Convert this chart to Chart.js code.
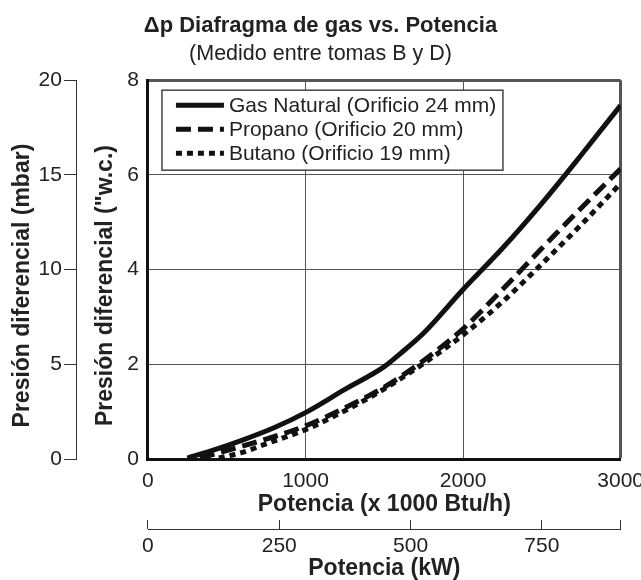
<!DOCTYPE html>
<html>
<head>
<meta charset="utf-8">
<script src="https://cdn.jsdelivr.net/npm/chart.js@4"></script>
<style>
  html, body { margin: 0; padding: 0; background: #fff; }
</style>
</head>
<body>
<canvas id="chart" width="641" height="580"></canvas>
<script>
// Values (x in 1000 Btu/h, y in inches w.c.)
const gasX = [250, 400, 600, 800, 1000, 1250, 1500, 1600, 1750, 2000, 2250, 2500, 2750, 3000];
const gasY = [0.02, 0.17, 0.40, 0.66, 0.98, 1.47, 1.95, 2.22, 2.66, 3.58, 4.45, 5.40, 6.42, 7.47];

const propX = [330, 500, 750, 1000, 1250, 1500, 1750, 2000, 2250, 2500, 2750, 3000];
const propY = [0.02, 0.18, 0.42, 0.70, 1.08, 1.52, 2.08, 2.75, 3.58, 4.45, 5.30, 6.13];

const butX = [450, 600, 750, 1000, 1250, 1500, 1750, 2000, 2250, 2500, 2750, 3000];
const butY = [0.02, 0.14, 0.32, 0.62, 1.02, 1.48, 2.02, 2.62, 3.32, 4.12, 4.95, 5.82];

const seriesLabels = ['Gas Natural (Orificio 24 mm)', 'Propano (Orificio 20 mm)', 'Butano (Orificio 19 mm)'];
const dashes = [[], [15, 7], [6, 5]];

const btuTicks = [0, 1000, 2000, 3000];
const kwTicks = [0, 250, 500, 750];
const kwMax = 900; // end of the kW scale (unlabelled tick)

const TXT = '#222';
Chart.defaults.font.family = '"Liberation Sans", Arial, Helvetica, sans-serif';
Chart.defaults.color = TXT;

const toPts = (xs, ys) => xs.map((x, i) => ({ x: x, y: ys[i] }));

// legend drawn as a framed box inside the plot, top-left
const boxLegend = {
    id: 'boxLegend',
    afterDatasetsDraw(chart) {
        const { ctx, chartArea } = chart;
        const left = chartArea.left + 14, top = chartArea.top + 10;
        ctx.save();
        ctx.fillStyle = '#fff';
        ctx.fillRect(left, top, 341, 80);
        ctx.strokeStyle = '#444';
        ctx.lineWidth = 1.5;
        ctx.strokeRect(left, top, 341, 80);
        ctx.font = '21px "Liberation Sans", Arial, sans-serif';
        ctx.textBaseline = 'middle';
        chart.data.datasets.forEach((ds, i) => {
            const y = top + 15 + i * 24;
            ctx.strokeStyle = ds.borderColor;
            ctx.lineWidth = ds.borderWidth;
            ctx.setLineDash(ds.borderDash || []);
            ctx.beginPath();
            ctx.moveTo(left + 14, y);
            ctx.lineTo(left + 62, y);
            ctx.stroke();
            ctx.setLineDash([]);
            ctx.fillStyle = TXT;
            ctx.fillText(ds.label, left + 67, y + 1);
        });
        ctx.restore();
    }
};

// kW axis: line under the upward tick marks
const kwLine = {
    id: 'kwLine',
    afterDraw(chart) {
        const s = chart.scales.kw;
        const ctx = chart.ctx;
        const y = Math.round(s.top + s.options.grid.tickLength) + 0.5;
        ctx.save();
        ctx.strokeStyle = '#333';
        ctx.lineWidth = 1;
        ctx.beginPath();
        ctx.moveTo(s.left, y);
        ctx.lineTo(s.right + 0.5, y);
        ctx.stroke();
        ctx.restore();
    }
};

const tickFont = { size: 21, lineHeight: 1 };
const titleFont = { size: 23, weight: 'bold', lineHeight: 1 };

const ctx = document.getElementById('chart').getContext('2d');
const chart = new Chart(ctx, {
    type: 'line',
    data: {
        datasets: [
            { label: seriesLabels[0], data: toPts(gasX, gasY) },
            { label: seriesLabels[1], data: toPts(propX, propY) },
            { label: seriesLabels[2], data: toPts(butX, butY) }
        ].map((d, i) => Object.assign(d, {
            borderColor: '#111',
            borderWidth: 5,
            borderDash: dashes[i],
            pointRadius: 0,
            fill: false,
            cubicInterpolationMode: 'monotone',
            xAxisID: 'x',
            yAxisID: 'y'
        }))
    },
    options: {
        responsive: false,
        animation: false,
        events: [],
        layout: { padding: 0 },
        plugins: {
            legend: { display: false },
            tooltip: { enabled: false },
            title: {
                display: true,
                text: 'Δp Diafragma de gas vs. Potencia',
                color: TXT,
                font: { size: 22, weight: 'bold' },
                padding: { top: 13, bottom: 0 }
            },
            subtitle: {
                display: true,
                text: '(Medido entre tomas B y D)',
                color: TXT,
                font: { size: 21.5, weight: 'normal' },
                padding: { top: 2, bottom: 13 }
            }
        },
        scales: {
            x: {
                type: 'linear',
                position: 'bottom',
                weight: 0,
                min: 0,
                max: 3000,
                afterBuildTicks: s => { s.ticks = btuTicks.map(v => ({ value: v })); },
                ticks: { padding: -3, maxRotation: 0, autoSkip: false, font: tickFont, callback: v => String(v) },
                grid: {
                    color: '#555',
                    tickColor: 'rgba(0,0,0,0)',
                    tickLength: 15,
                    lineWidth: c => (c.tick && c.tick.value === 3000) ? 3 : 1
                },
                border: { color: '#111', width: 3 },
                title: {
                    display: true,
                    text: 'Potencia (x 1000 Btu/h)',
                    font: titleFont,
                    padding: { top: 4.5, bottom: 3.5 }
                }
            },
            kw: {
                type: 'linear',
                position: 'bottom',
                weight: 1,
                min: 0,
                max: kwMax,
                afterBuildTicks: s => { s.ticks = kwTicks.concat([kwMax]).map(v => ({ value: v })); },
                ticks: {
                    autoSkip: false,
                    padding: 7,
                    maxRotation: 0,
                    font: tickFont,
                    callback: v => (v === kwMax ? '' : String(v))
                },
                grid: { drawOnChartArea: false, tickLength: 9, color: '#333', lineWidth: 1 },
                border: { display: false },
                title: {
                    display: true,
                    text: 'Potencia (kW)',
                    font: titleFont,
                    padding: { top: -7, bottom: 0 }
                }
            },
            y: {
                type: 'linear',
                position: 'left',
                weight: 0,
                min: 0,
                max: 8,
                ticks: { stepSize: 2, padding: 9, font: tickFont },
                grid: {
                    color: '#555',
                    drawTicks: false,
                    lineWidth: c => (c.tick && c.tick.value === 8) ? 3 : 1
                },
                border: { color: '#111', width: 3 },
                title: {
                    display: true,
                    text: 'Presión diferencial ("w.c.)     ',
                    font: titleFont,
                    padding: { top: 17.5, bottom: 0.8 }
                }
            },
            mbar: {
                type: 'linear',
                position: 'left',
                weight: 1,
                min: 0,
                max: 20,
                ticks: { stepSize: 5, padding: 2, font: tickFont },
                grid: { drawOnChartArea: false, tickLength: 13, color: '#333', lineWidth: 1 },
                border: { display: true, color: '#333', width: 1 },
                title: {
                    display: true,
                    text: 'Presión diferencial (mbar)     ',
                    font: titleFont,
                    padding: { top: 11.5, bottom: 2.1 }
                }
            }
        }
    },
    plugins: [boxLegend, kwLine]
});
</script>
</body>
</html>
